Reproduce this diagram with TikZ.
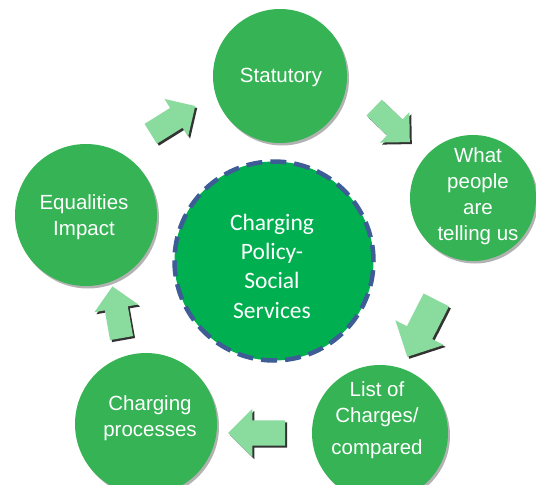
\documentclass[tikz,border=0pt]{standalone}
\usepackage{fontspec}
\setmainfont{Liberation Sans}
\newfontfamily\corefont{Carlito}
\usetikzlibrary{shapes.arrows,shadows}
\definecolor{bubblegreen}{RGB}{53,179,85}
\definecolor{coregreen}{RGB}{0,176,80}
\definecolor{coreblue}{RGB}{62,92,150}
\definecolor{arrowgreen}{RGB}{138,219,158}
\begin{document}
\begin{tikzpicture}[x=1pt,y=-1pt,
  bubble/.style={circle, fill=bubblegreen, inner sep=0pt,
    drop shadow={shadow xshift=2pt, shadow yshift=-2.5pt, fill=black, opacity=0.3}},
  core/.style={circle, fill=coregreen, draw=coreblue, line width=4.5pt,
    dash pattern=on 16pt off 8pt, inner sep=0pt, minimum size=199pt},
  lbl/.style={text=white, align=center, inner sep=0pt, font=\fontsize{20.5}{26}\selectfont},
  corelbl/.style={text=white, align=center, inner sep=0pt, font=\corefont\fontsize{23.5}{29.3}\selectfont},
  flow/.style={single arrow, fill=arrowgreen, inner xsep=0pt, inner ysep=12.5pt,
    single arrow head extend=11.5pt, minimum height=57pt, transform shape,
    drop shadow={shadow xshift=2pt, shadow yshift=-2pt, fill=black, opacity=0.8}}
]
\useasboundingbox (0,0) rectangle (536,485);
\clip (0,0) rectangle (536,485);

% circles
\node[bubble, minimum size=134pt] (stat) at (280,76) {};
\node[bubble, minimum size=126pt] (what) at (473,198) {};
\node[bubble, minimum size=136pt] (list) at (380,433) {};
\node[bubble, minimum size=142pt] (proc) at (146,424) {};
\node[bubble, minimum size=142pt] (equal) at (86,215) {};
\node[core] (centre) at (274,261) {};

% labels
\node[lbl] (statL) at (281,77) {Statutory};
\node[lbl] (whatL) at (478,196) {What\\people\\are\\telling us};
\node[lbl] (listL) at (377,420) {List of\\Charges/\\[6pt]compared};
\node[lbl] (procL) at (150,418) {Charging\\processes};
\node[lbl] (equalL) at (84,217) {Equalities\\Impact};
\node[corelbl] (centreL) at (272,266) {Charging\\Policy-\\Social\\Services};

% block arrows
\node[flow, rotate=32, scale=0.92] (a1) at (168,123) {};
\node[flow, rotate=-44, scale=0.87] (a2) at (388,121) {};
\node[flow, rotate=243, scale=1.12] (a3) at (425,322) {};
\node[flow, rotate=180] (a4) at (263,433) {};
\node[flow, rotate=100, scale=0.92] (a5) at (118,318) {};
\end{tikzpicture}
\end{document}
